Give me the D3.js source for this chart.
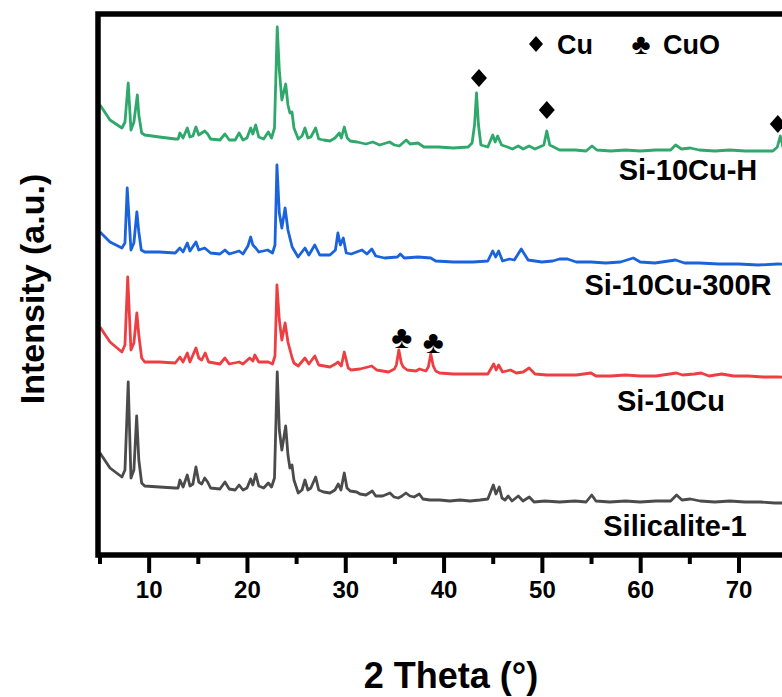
<!DOCTYPE html>
<html>
<head>
<meta charset="utf-8">
<script src="https://cdn.jsdelivr.net/npm/d3@7/dist/d3.min.js"></script>
<style>
  html, body { margin: 0; padding: 0; background: #fff; }
  svg { display: block; }
  text { font-family: "Liberation Sans", Arial, sans-serif; font-weight: bold; fill: #000; }
</style>
</head>
<body>
<svg id="chart" width="782" height="697"></svg>
<script>
// XRD patterns, stacked vertically: [2θ (°), intensity (a.u.)]
const silicalite1 = [[5.05,102],[6.07,87],[7.28,78],[7.59,85],[7.92,173],[8.2,77],[8.5,85],[8.78,139],[9.0,95],[9.29,72],[9.6,69],[11.1,68],[12.7,67],[13.0,67],[13.18,75],[13.5,68],[13.93,80],[14.2,69],[14.5,71],[14.81,88],[15.1,73],[15.4,71],[15.7,77],[16.0,73],[16.3,67],[17.25,66],[17.76,73],[18.2,66],[18.8,65],[19.2,70],[19.6,65],[20.0,67],[20.38,76],[20.6,70],[20.89,81],[21.2,69],[21.7,67],[22.17,72],[22.5,68],[22.8,77],[23.08,183],[23.29,125],[23.55,105],[23.94,129],[24.17,100],[24.37,87],[24.58,90],[24.78,75],[25.22,62],[25.6,65],[25.9,75],[26.2,65],[26.5,67],[26.99,78],[27.3,65],[27.8,63],[28.44,62],[28.95,65],[29.29,71],[29.56,65],[29.9,82],[30.17,67],[30.5,64],[31.16,63],[31.5,61],[32.1,60],[32.75,64],[33.1,59],[33.8,59],[34.55,62],[34.96,58],[35.4,57],[35.77,59],[36.17,62],[36.58,59],[37.0,58],[37.53,61],[37.9,56],[38.6,55],[39.6,55],[40.65,54],[41.67,55],[42.69,54],[43.7,55],[44.5,56],[45.06,70],[45.33,61],[45.67,68],[45.94,57],[46.25,55],[46.58,59],[46.96,54],[47.6,59],[48.08,54],[48.72,58],[49.2,53],[50.3,54],[51.8,53],[53.37,54],[54.5,53],[55.07,60],[55.5,54],[56.9,53],[58.5,54],[60.0,53],[61.6,54],[63.1,54],[63.7,60],[64.25,55],[65.1,56],[66.1,54],[67.6,53],[69.1,54],[70.66,53],[72.2,53],[73.7,52],[75.2,52],[80,52]];

const si10Cu = [[5.05,228],[6.07,213],[7.28,203],[7.59,210],[7.87,278],[8.2,205],[8.5,212],[8.8,242],[9.0,220],[9.29,197],[9.6,193],[11.1,193],[12.7,192],[13.18,198],[13.5,193],[13.93,202],[14.2,193],[14.81,207],[15.1,197],[15.4,195],[15.75,202],[16.1,193],[17.25,191],[17.76,197],[18.2,191],[19.2,193],[19.6,191],[20.27,197],[20.6,194],[20.8,200],[21.2,193],[22.17,193],[22.6,191],[22.85,199],[23.05,270],[23.29,235],[23.55,215],[23.88,232],[24.17,213],[24.3,208],[24.6,197],[24.78,192],[25.22,189],[25.9,197],[26.3,191],[26.9,199],[27.3,190],[28.44,188],[29.0,191],[29.25,193],[29.6,189],[29.9,203],[30.3,187],[30.6,185],[31.5,186],[32.7,189],[33.2,185],[34.4,183],[35.0,186],[35.2,190],[35.45,205],[35.7,192],[35.9,188],[36.3,185],[37.2,184],[37.55,186],[38.2,184],[38.45,188],[38.7,201],[38.95,189],[39.2,184],[39.6,182],[41,181],[43,181],[44.5,181],[45.1,191],[45.35,185],[45.6,190],[46.0,183],[46.8,185],[47.4,182],[48.1,183],[48.7,187],[49.3,181],[50.5,180],[52,180],[53.5,180],[55.0,182],[55.5,179],[57,179],[58.5,180],[60,179],[61.6,179],[63.7,182],[64.3,180],[65.5,181],[66.2,182],[67,179],[68.3,181],[69.5,179],[71,179],[72.5,178],[74,178],[76,177],[80,177]];

const si10Cu300R = [[5.05,323],[6.07,313],[7.28,307],[7.59,312],[7.82,367],[8.2,305],[8.5,312],[8.8,343],[9.0,323],[9.25,305],[9.6,303],[11.1,303],[12.7,302],[13.18,307],[13.5,303],[13.93,312],[14.2,304],[14.81,313],[15.1,305],[15.7,307],[16.3,302],[17.25,301],[17.76,305],[18.2,301],[19.2,304],[19.6,301],[20.1,309],[20.38,318],[20.6,310],[20.89,307],[21.2,303],[22.1,305],[22.6,302],[22.85,310],[23.05,390],[23.29,342],[23.55,327],[23.88,347],[24.17,325],[24.37,317],[24.6,308],[24.78,305],[25.2,298],[25.9,307],[26.3,300],[26.9,310],[27.4,300],[28.44,300],[29.0,305],[29.25,322],[29.5,310],[29.8,317],[30.1,302],[30.6,301],[31.7,305],[32.2,301],[32.7,306],[33.1,299],[34.0,297],[35.3,298],[35.6,301],[36.0,297],[37.4,298],[38.7,297],[39.2,294],[41,293],[43,293],[44.5,294],[45.0,304],[45.3,298],[45.6,304],[46.0,294],[46.7,296],[47.2,295],[47.9,306],[48.6,295],[50.0,293],[51.1,294],[51.8,296],[52.6,296],[53.5,293],[55,293],[56.5,292],[58,293],[59.3,297],[60,293],[61.5,292],[63.6,295],[64.5,292],[66,292],[68,291],[70,291],[72,290],[74,291],[76,290],[80,290]];

const si10CuH = [[5.05,450],[6.07,435],[7.28,427],[7.59,433],[7.92,472],[8.2,425],[8.5,433],[8.85,460],[9.0,440],[9.29,422],[9.6,420],[11.1,418],[12.7,416],[13.0,416],[13.18,422],[13.5,417],[13.93,427],[14.2,418],[14.5,419],[14.81,428],[15.1,420],[15.4,422],[15.7,424],[16.0,421],[16.3,416],[17.25,415],[17.76,421],[18.2,415],[18.8,415],[19.2,422],[19.6,415],[20.0,417],[20.38,427],[20.6,421],[20.89,430],[21.2,418],[21.7,416],[22.17,423],[22.5,417],[22.8,427],[23.08,528],[23.29,485],[23.55,455],[23.94,471],[24.17,450],[24.37,442],[24.58,443],[24.78,427],[25.22,416],[25.6,419],[25.9,427],[26.2,417],[26.5,418],[26.99,427],[27.3,416],[27.8,415],[28.44,414],[28.95,417],[29.4,422],[29.6,417],[29.9,428],[30.2,417],[30.5,414],[31.2,413],[32.1,411],[32.8,413],[33.5,410],[34.5,413],[35.0,410],[35.5,409],[36.2,415],[36.6,411],[37.4,412],[38.0,408],[39.5,408],[41.0,407],[42.5,408],[42.9,412],[43.15,430],[43.35,462],[43.55,430],[43.8,410],[44.5,408],[45.0,420],[45.25,413],[45.5,419],[45.9,410],[46.5,408],[47.0,406],[47.6,409],[48.1,406],[48.7,409],[49.3,406],[50.2,410],[50.5,424],[50.8,410],[51.8,405],[53.4,405],[54.5,404],[55.1,409],[55.6,405],[57,404],[58.5,405],[60,404],[61.6,405],[63.1,405],[63.6,410],[64.2,406],[65.1,407],[66,405],[67.6,404],[69.1,405],[70.7,404],[72.2,404],[73.5,404],[73.95,408],[74.25,419],[74.6,405],[76,404],[80,404]];

const seriesNames  = ["Silicalite-1", "Si-10Cu", "Si-10Cu-300R", "Si-10Cu-H"];
const seriesColors = ["#4b4b4b", "#ef3e42", "#1b63dc", "#2fa86b"];
const seriesLabelPos = [[675, 536], [671, 411], [678, 295], [688, 180]]; // label anchor [x px, baseline px]

// Phase markers: [2θ, intensity]
const cuMarks  = [[43.6, 477], [50.5, 445], [74.0, 431]];
const cuoMarks = [[35.74, 218], [38.95, 213]];

const xTicksMajor = [10, 20, 30, 40, 50, 60, 70];
const xTicksMinor = [5, 15, 25, 35, 45, 55, 65, 75];

const svg = d3.select("#chart");
const plot = { left: 99.5, right: 836.8, top: 14, bottom: 555 };

const x = d3.scaleLinear().domain([5, 80]).range([plot.left, plot.right]);
const y = d3.scaleLinear().domain([0, 541]).range([plot.bottom, plot.top]);

const allSeries = [silicalite1, si10Cu, si10Cu300R, si10CuH];

const line = d3.line().x(d => x(d[0])).y(d => y(d[1])).curve(d3.curveLinear);

svg.append("g").selectAll("path")
  .data(allSeries)
  .join("path")
  .attr("d", line)
  .attr("fill", "none")
  .attr("stroke", (d, i) => seriesColors[i])
  .attr("stroke-width", 2.8)
  .attr("stroke-linejoin", "round");

// frame
svg.append("rect")
  .attr("x", plot.left - 1.5).attr("y", plot.top)
  .attr("width", plot.right - plot.left + 1.5).attr("height", plot.bottom - plot.top)
  .attr("fill", "none").attr("stroke", "#000").attr("stroke-width", 5.5);

// bottom axis
const xAxis = d3.axisBottom(x).tickValues(xTicksMajor).tickSize(18).tickPadding(6).tickFormat(d3.format("d"));
const gx = svg.append("g").attr("transform", `translate(0,${plot.bottom})`).call(xAxis);
gx.select(".domain").remove();
gx.selectAll(".tick line").attr("stroke", "#000").attr("stroke-width", 4);
gx.selectAll(".tick text").attr("font-size", 24).attr("font-family", "Liberation Sans, Arial, sans-serif").attr("font-weight", "bold").attr("fill", "#000").attr("dy", "0.8em");

const xAxisMinor = d3.axisBottom(x).tickValues(xTicksMinor).tickSize(9).tickFormat("");
const gxm = svg.append("g").attr("transform", `translate(0,${plot.bottom})`).call(xAxisMinor);
gxm.select(".domain").remove();
gxm.selectAll(".tick line").attr("stroke", "#000").attr("stroke-width", 4);

// axis titles
svg.append("text")
  .attr("x", 451).attr("y", 688)
  .attr("text-anchor", "middle").attr("font-size", 36)
  .text("2 Theta (°)");

svg.append("text")
  .attr("transform", "translate(44,289) rotate(-90)")
  .attr("text-anchor", "middle").attr("font-size", 34)
  .text("Intensity (a.u.)");

// series labels
svg.append("g").selectAll("text")
  .data(seriesNames)
  .join("text")
  .attr("x", (d, i) => seriesLabelPos[i][0])
  .attr("y", (d, i) => seriesLabelPos[i][1])
  .attr("text-anchor", "middle")
  .attr("font-size", 29)
  .text(d => d);

// diamond marker path
const diamond = (cx, cy, hw, hh) => `M${cx},${cy - hh}L${cx + hw},${cy}L${cx},${cy + hh}L${cx - hw},${cy}Z`;

svg.append("g").selectAll("path")
  .data(cuMarks)
  .join("path")
  .attr("d", d => diamond(x(d[0]), y(d[1]), 8, 9))
  .attr("fill", "#000");

svg.append("g").selectAll("text")
  .data(cuoMarks)
  .join("text")
  .attr("x", d => x(d[0]))
  .attr("y", d => y(d[1]))
  .attr("text-anchor", "middle")
  .attr("dominant-baseline", "central")
  .attr("font-family", "DejaVu Sans, sans-serif")
  .attr("font-weight", "normal")
  .attr("font-size", 32)
  .text("♣");

// legend
const legend = svg.append("g");
legend.append("path").attr("d", diamond(536, 44, 7, 8)).attr("fill", "#000");
legend.append("text").attr("x", 557).attr("y", 53.5).attr("font-size", 27).text("Cu");
legend.append("text").attr("x", 641).attr("y", 44).attr("text-anchor", "middle")
  .attr("dominant-baseline", "central").attr("font-family", "DejaVu Sans, sans-serif")
  .attr("font-weight", "normal").attr("font-size", 29).text("♣");
legend.append("text").attr("x", 663).attr("y", 53.5).attr("font-size", 27).text("CuO");
</script>
</body>
</html>
